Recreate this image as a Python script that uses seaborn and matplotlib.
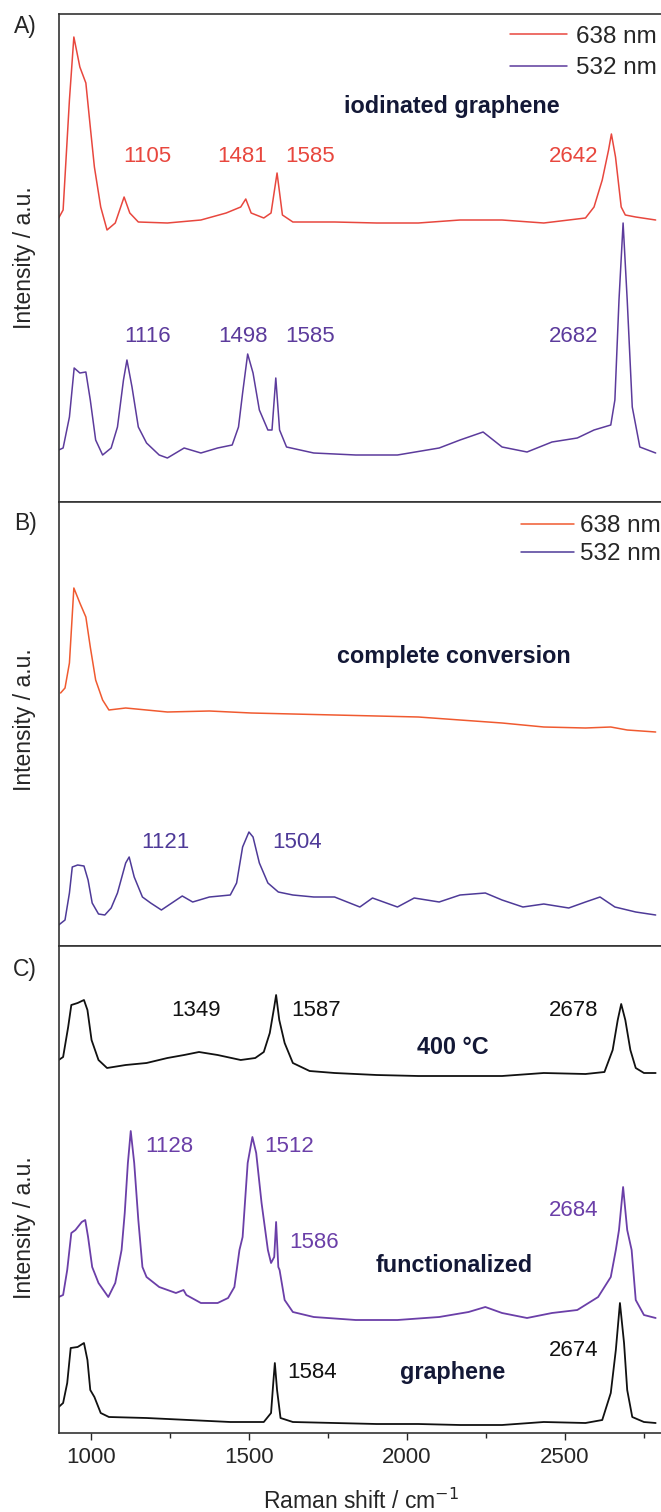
import pandas as pd
import matplotlib.pyplot as plt
import seaborn as sns

# Colours
RED_A = "#E8473E"
PURPLE_A = "#5C3B9C"
ORANGE_B = "#F05A30"
PURPLE_B = "#4E3A98"
PURPLE_C = "#6B3FA8"
BLACK = "#111111"
NAVY = "#131836"

# ---- Panel A: iodinated graphene ----
wn_a638 = [899, 913, 933, 947, 966, 985, 999, 1012, 1032, 1052, 1078, 1106, 1124, 1151, 1243,
           1349, 1429, 1475, 1491, 1508, 1548, 1571, 1590, 1607, 1640, 1772, 1905, 2037, 2169,
           2302, 2434, 2566, 2593, 2619, 2639, 2648, 2661, 2679, 2692, 2725, 2788]
int_a638 = [284, 292, 402, 465, 435, 419, 375, 335, 295, 272, 279, 305, 289, 280, 279,
            282, 289, 295, 303, 289, 284, 289, 329, 287, 280, 280, 279, 279, 282,
            282, 279, 284, 295, 322, 352, 368, 345, 295, 287, 285, 282]

wn_a532 = [899, 913, 933, 948, 966, 985, 999, 1016, 1038, 1065, 1085, 1104, 1115, 1131, 1151,
           1177, 1217, 1243, 1296, 1349, 1402, 1448, 1468, 1481, 1497, 1514, 1534, 1561, 1574,
           1586, 1598, 1620, 1706, 1839, 1971, 2103, 2169, 2242, 2302, 2381, 2460, 2540, 2593,
           2646, 2659, 2672, 2685, 2698, 2714, 2738, 2788]
int_a532 = [52, 54, 85, 134, 129, 130, 102, 62, 47, 54, 75, 122, 142, 115, 75,
            59, 47, 44, 54, 49, 54, 57, 75, 109, 148, 129, 92, 72, 72,
            124, 72, 55, 49, 47, 47, 54, 62, 70, 55, 50, 60, 64, 72,
            77, 102, 202, 279, 202, 95, 55, 49]

# ---- Panel B: complete conversion ----
wn_b638 = [905, 919, 933, 947, 966, 985, 999, 1016, 1038, 1058, 1111, 1243, 1376, 1508, 1640,
           1772, 1905, 2037, 2169, 2302, 2434, 2566, 2646, 2698, 2788]
int_b638 = [253, 258, 283, 358, 343, 329, 299, 266, 246, 236, 238, 234, 235, 233, 232,
            231, 230, 229, 226, 223, 219, 218, 219, 216, 214]

wn_b532 = [899, 919, 933, 942, 959, 979, 992, 1005, 1025, 1045, 1065, 1085, 1111, 1122, 1138,
           1164, 1190, 1224, 1257, 1290, 1323, 1376, 1442, 1462, 1481, 1501, 1514, 1534, 1561,
           1594, 1640, 1706, 1772, 1852, 1892, 1971, 2024, 2103, 2169, 2249, 2302, 2368, 2434,
           2513, 2566, 2612, 2659, 2725, 2788]
int_b532 = [21, 26, 53, 79, 81, 80, 66, 43, 32, 31, 38, 53, 83, 89, 69,
            49, 43, 36, 43, 50, 44, 49, 51, 63, 99, 114, 109, 83, 63,
            54, 51, 49, 49, 39, 48, 39, 48, 44, 51, 53, 46, 39, 42,
            38, 44, 49, 39, 34, 31]

# ---- Panel C: 400 °C / functionalized / graphene ----
wn_c400 = [899, 913, 929, 939, 959, 979, 990, 1003, 1025, 1052, 1111, 1177, 1243, 1296, 1343,
           1402, 1475, 1521, 1548, 1567, 1581, 1587, 1597, 1614, 1640, 1693, 1772, 1905, 2037,
           2169, 2302, 2434, 2566, 2626, 2652, 2668, 2679, 2692, 2708, 2725, 2751, 2788]
int_c400 = [373, 376, 406, 428, 430, 433, 423, 393, 373, 365, 368, 370, 375, 378, 381,
            378, 373, 375, 381, 400, 426, 438, 413, 390, 370, 362, 360, 358, 357,
            357, 357, 360, 359, 361, 383, 413, 429, 413, 383, 365, 360, 360]

wn_cfun = [899, 913, 926, 933, 939, 952, 972, 983, 992, 1005, 1025, 1056, 1078, 1098, 1108,
           1118, 1127, 1138, 1151, 1164, 1177, 1217, 1270, 1294, 1303, 1349, 1402, 1435, 1455,
           1471, 1481, 1497, 1512, 1524, 1541, 1561, 1571, 1581, 1587, 1594, 1598, 1614, 1640,
           1706, 1839, 1971, 2103, 2196, 2249, 2302, 2381, 2460, 2540, 2606, 2646, 2662, 2672,
           2685, 2698, 2712, 2725, 2751, 2788]
int_cfun = [136, 138, 163, 183, 200, 203, 211, 213, 196, 166, 150, 136, 150, 183, 220,
            270, 302, 270, 213, 166, 156, 146, 140, 143, 138, 130, 130, 135, 146,
            183, 196, 270, 296, 280, 230, 183, 170, 176, 211, 166, 163, 133, 121,
            116, 113, 113, 116, 121, 126, 120, 115, 120, 123, 136, 156, 183, 203,
            246, 203, 183, 133, 118, 115]

wn_cgra = [899, 913, 926, 937, 959, 979, 990, 999, 1012, 1032, 1058, 1177, 1310, 1442, 1548,
           1571, 1578, 1583, 1590, 1601, 1640, 1772, 1905, 2037, 2169, 2302, 2434, 2566, 2619,
           2646, 2662, 2675, 2688, 2698, 2714, 2751, 2788]
int_cgra = [26, 30, 50, 85, 86, 90, 73, 43, 36, 20, 16, 15, 13, 11, 11,
            20, 50, 70, 43, 15, 11, 10, 9, 9, 8, 8, 11, 10, 13,
            40, 83, 130, 90, 43, 16, 11, 10]

# Peak labels: (text, x, y, colour)
labels_a = [("1105", 1180, 345, RED_A), ("1481", 1481, 345, RED_A), ("1585", 1693, 345, RED_A),
            ("2642", 2529, 345, RED_A),
            ("1116", 1180, 165, PURPLE_A), ("1498", 1481, 165, PURPLE_A),
            ("1585", 1693, 165, PURPLE_A), ("2682", 2529, 165, PURPLE_A)]
labels_b = [("1121", 1237, 104, PURPLE_B), ("1504", 1653, 104, PURPLE_B)]
labels_c = [("1349", 1333, 423, BLACK), ("1587", 1713, 423, BLACK), ("2678", 2529, 423, BLACK),
            ("1128", 1250, 286, PURPLE_C), ("1512", 1627, 286, PURPLE_C),
            ("1586", 1706, 191, PURPLE_C), ("2684", 2529, 223, PURPLE_C),
            ("1584", 1700, 61, BLACK), ("2674", 2529, 83, BLACK)]
titles = [("iodinated graphene", 2143, 395), ("complete conversion", 2150, 289),
          ("400 °C", 2147, 386), ("functionalized", 2150, 168), ("graphene", 2146, 60)]


def spectrum(wn, inten, name):
    return pd.DataFrame({"wn": wn, "intensity": inten, "spectrum": name})


sns.set_theme(style="ticks")
plt.rcParams['font.family'] = ['Liberation Sans', 'DejaVu Sans']

fig = plt.figure(figsize=(6.61, 15.12), dpi=100)
W, H = 661.0, 1512.0
left = 59 / W
width = 603.6 / W
# panel (top px, bottom px)
panels = [(14, 502), (502, 946), (946, 1433)]
axes = []
for top, bot in panels:
    ax = fig.add_axes([left, 1 - bot / H, width, (bot - top) / H])
    axes.append(ax)

ax_a, ax_b, ax_c = axes

df_a = pd.concat([spectrum(wn_a638, int_a638, "638 nm"), spectrum(wn_a532, int_a532, "532 nm")])
sns.lineplot(data=df_a, x="wn", y="intensity", hue="spectrum",
             palette={"638 nm": RED_A, "532 nm": PURPLE_A},
             sort=False, estimator=None, lw=1.1, ax=ax_a)
ax_a.set_ylim(0, 488)

df_b = pd.concat([spectrum(wn_b638, int_b638, "638 nm"), spectrum(wn_b532, int_b532, "532 nm")])
sns.lineplot(data=df_b, x="wn", y="intensity", hue="spectrum",
             palette={"638 nm": ORANGE_B, "532 nm": PURPLE_B},
             sort=False, estimator=None, lw=1.1, ax=ax_b)
ax_b.set_ylim(0, 444)

df_c = pd.concat([spectrum(wn_c400, int_c400, "400 °C"),
                  spectrum(wn_cfun, int_cfun, "functionalized"),
                  spectrum(wn_cgra, int_cgra, "graphene")])
sns.lineplot(data=df_c, x="wn", y="intensity", hue="spectrum",
             palette={"400 °C": BLACK, "functionalized": PURPLE_C, "graphene": BLACK},
             sort=False, estimator=None, lw=1.3, ax=ax_c, legend=False)
ax_c.set_ylim(0, 487)

# legends
ax_a.legend(frameon=False, loc="upper left", bbox_to_anchor=(0.747, 0.976), fontsize=17.5,
            handlelength=2.35, handletextpad=0.37, borderpad=0, borderaxespad=0, labelspacing=0.4)
ax_b.legend(frameon=False, loc="upper left", bbox_to_anchor=(0.765, 0.970), fontsize=17.5,
            handlelength=2.2, handletextpad=0.25, borderpad=0, borderaxespad=0, labelspacing=0.24)

for ax in axes:
    ax.set_xlim(900, 2810)
    ax.set_yticks([])
    ax.set_xlabel("")
    ax.set_ylabel("")
    for sp in ax.spines.values():
        sp.set_linewidth(1.2)
        sp.set_color("#333333")

for ax in (ax_a, ax_b):
    ax.tick_params(axis="x", bottom=False, labelbottom=False)

ax_c.set_xticks([1000, 1500, 2000, 2500])
ax_c.set_xticks([1250, 1750, 2250, 2750], minor=True)
ax_c.tick_params(axis="x", which="major", direction="out", length=5, width=1, labelsize=16, pad=5)
ax_c.tick_params(axis="x", which="minor", direction="out", length=3.5, width=1)
ax_c.set_xlabel("Raman shift / cm$^{-1}$", fontsize=16.5, labelpad=15)

for ax, labs in ((ax_a, labels_a), (ax_b, labels_b), (ax_c, labels_c)):
    for s, x, y, c in labs:
        ax.text(x, y, s, ha="center", va="center", color=c, fontsize=16)

for (s, x, y), ax in zip(titles, [ax_a, ax_b, ax_c, ax_c, ax_c]):
    ax.text(x, y, s, ha="center", va="center", color=NAVY, fontsize=16.8, fontweight="bold")

# panel letters and y labels
for letter, ypx in (("A)", 26), ("B)", 524), ("C)", 969)):
    fig.text(25 / W, 1 - ypx / H, letter, ha="center", va="center", fontsize=16.5)
for ypx in (258, 720, 1228):
    fig.text(25 / W, 1 - ypx / H, "Intensity / a.u.", rotation=90,
             ha="center", va="center", fontsize=16.5)

fig.savefig("out.png", dpi=100)
